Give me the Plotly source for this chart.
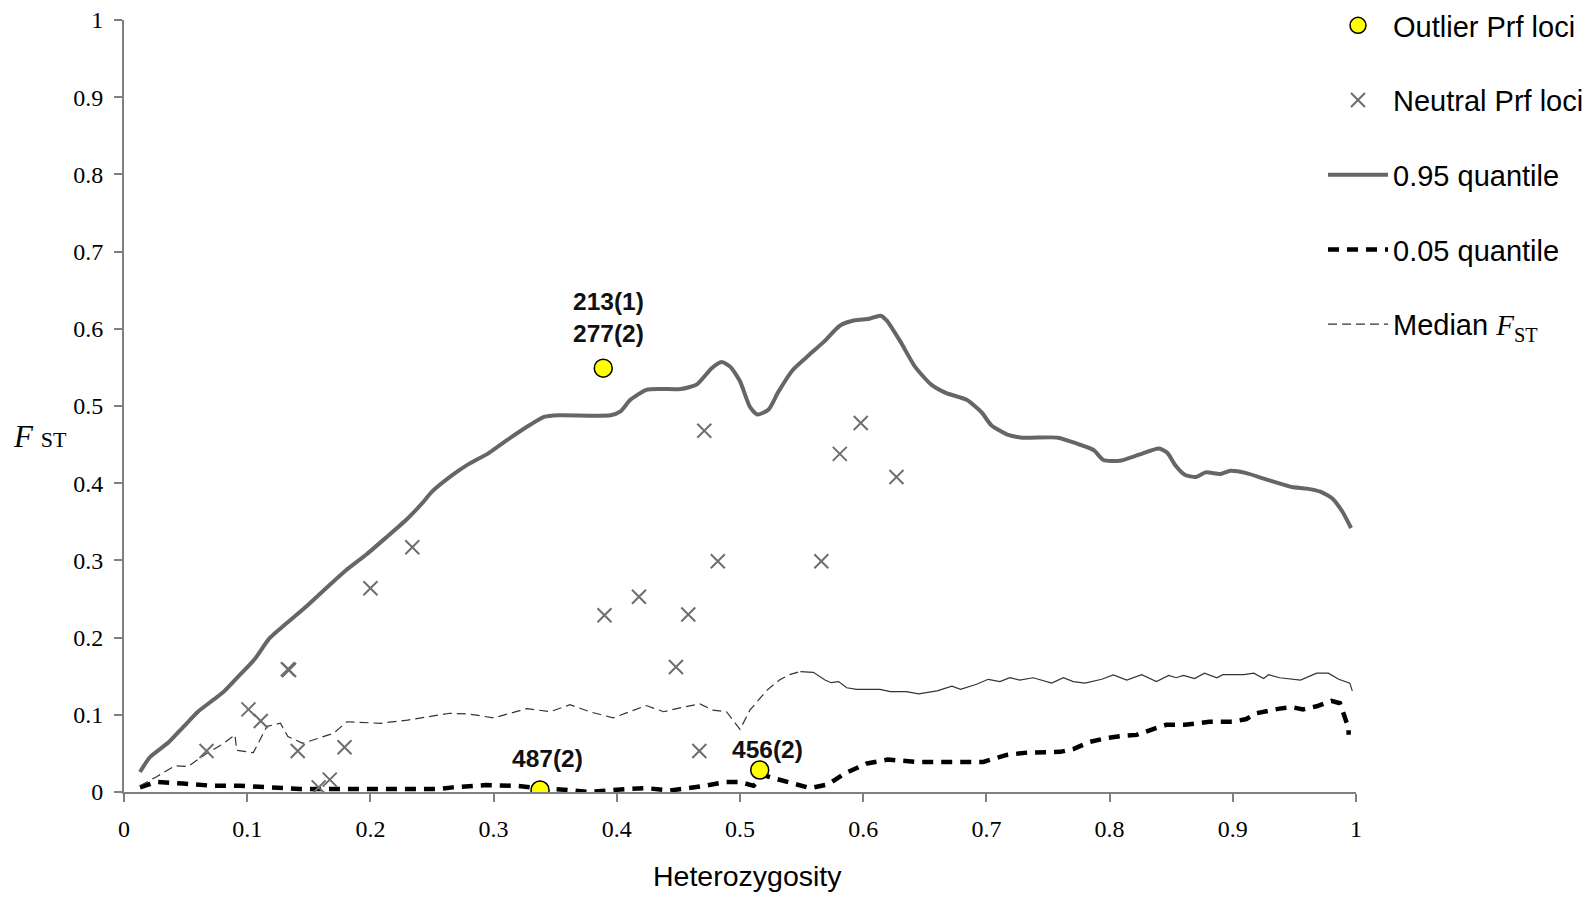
import plotly.graph_objects as go

# ---------------- data ----------------
q95_x = [0.013,0.021,0.036,0.048,0.060,0.073,0.081,0.093,0.106,0.118,
         0.130,0.147,0.164,0.180,0.197,0.213,0.230,0.242,0.250,0.267,
         0.279,0.296,0.312,0.329,0.341,0.353,0.395,0.403,0.411,0.424,
         0.436,0.452,0.465,0.477,0.485,0.492,0.500,0.508,0.514,0.523,
         0.531,0.543,0.556,0.568,0.581,0.593,0.605,0.614,0.619,0.630,
         0.642,0.655,0.667,0.684,0.696,0.704,0.717,0.729,0.758,0.774,
         0.787,0.795,0.808,0.824,0.840,0.847,0.853,0.861,0.870,0.878,
         0.890,0.898,0.911,0.923,0.935,0.948,0.960,0.971,0.981,0.989,
         0.996]
q95_y = [0.026,0.045,0.064,0.084,0.104,0.120,0.130,0.150,0.172,0.199,
         0.216,0.239,0.264,0.287,0.308,0.330,0.354,0.374,0.389,0.411,
         0.424,0.439,0.457,0.475,0.486,0.488,0.488,0.493,0.508,0.521,
         0.522,0.522,0.528,0.549,0.557,0.551,0.532,0.499,0.489,0.495,
         0.518,0.547,0.566,0.583,0.604,0.611,0.613,0.617,0.611,0.584,
         0.551,0.528,0.517,0.508,0.492,0.475,0.463,0.459,0.459,0.451,
         0.443,0.430,0.429,0.437,0.445,0.439,0.424,0.411,0.408,0.414,
         0.412,0.416,0.413,0.407,0.401,0.395,0.393,0.389,0.380,0.363,
         0.342]

q05_x = [0.013,0.0265,0.048,0.072,0.094,0.118,0.143,0.175,0.205,0.235,
         0.256,0.267,0.294,0.319,0.335,0.357,0.378,0.400,0.424,0.443,
         0.4675,0.489,0.500,0.511,0.519,0.527,0.543,0.557,0.5717,0.585,
         0.603,0.620,0.643,0.6975,0.7165,0.733,0.760,0.7705,0.784,0.798,
         0.810,0.822,0.837,0.846,0.861,0.871,0.881,0.900,0.911,0.919,
         0.9275,0.938,0.948,0.957,0.968,0.980,0.987,0.989,0.994,0.994]
q05_y = [0.006,0.013,0.011,0.008,0.008,0.006,0.004,0.004,0.004,0.004,
         0.004,0.006,0.009,0.008,0.005,0.003,0.000,0.003,0.005,0.002,
         0.007,0.013,0.013,0.008,0.022,0.018,0.011,0.005,0.010,0.024,
         0.037,0.042,0.039,0.039,0.048,0.051,0.052,0.0557,0.065,0.070,
         0.0725,0.074,0.0825,0.087,0.087,0.089,0.091,0.091,0.0945,0.102,
         0.105,0.108,0.110,0.107,0.111,0.118,0.115,0.106,0.0825,0.074]

med_x = [0.013,0.0265,0.0414,0.052,0.067,0.080,0.090,0.0915,0.105,0.116,
         0.127,0.133,0.145,0.159,0.170,0.181,0.208,0.230,0.246,0.2646,
         0.280,0.300,0.327,0.346,0.362,0.378,0.397,0.424,0.438,0.454,
         0.4675,0.478,0.489,0.500,0.508,0.522,0.532,0.540,0.549,0.5595,
         0.569,0.574,0.580,0.5866,0.5947,0.6136,0.622,0.635,0.645,0.660,
         0.672,0.679,0.692,0.7015,0.711,0.719,0.727,0.738,0.753,0.7625,
         0.7705,0.780,0.7936,0.803,0.814,0.826,0.838,0.848,0.854,0.860,
         0.869,0.877,0.887,0.892,0.909,0.917,0.925,0.929,0.938,0.955,
         0.968,0.9775,0.986,0.995,0.997]
med_y = [0.008,0.0198,0.034,0.033,0.050,0.062,0.074,0.054,0.051,0.085,
         0.089,0.072,0.063,0.070,0.076,0.091,0.089,0.093,0.097,0.102,
         0.101,0.096,0.108,0.104,0.113,0.104,0.096,0.112,0.104,0.110,
         0.114,0.106,0.104,0.081,0.106,0.132,0.145,0.152,0.156,0.155,
         0.145,0.1416,0.143,0.135,0.133,0.133,0.130,0.130,0.127,0.131,
         0.137,0.133,0.1395,0.146,0.143,0.148,0.145,0.148,0.141,0.148,
         0.143,0.141,0.146,0.1516,0.145,0.152,0.143,0.151,0.148,0.151,
         0.147,0.154,0.148,0.152,0.152,0.154,0.147,0.152,0.148,0.145,
         0.154,0.154,0.146,0.141,0.131]

neutral_x = [0.067,0.101,0.111,0.133,0.134,0.141,0.158,0.167,0.179,0.200,0.234,
             0.390,0.418,0.448,0.458,0.467,0.471,0.482,0.566,0.581,0.598,0.627]
neutral_y = [0.053,0.107,0.092,0.159,0.158,0.053,0.006,0.016,0.058,0.264,0.317,
             0.229,0.253,0.162,0.230,0.053,0.468,0.299,0.299,0.438,0.478,0.408]

outlier_x = [0.389, 0.3377, 0.516]
outlier_y = [0.549, 0.0026, 0.0285]
outlier_labels = ["213(1)<br>277(2)", "487(2)", "456(2)"]

x_ticks = [0, 0.1, 0.2, 0.3, 0.4, 0.5, 0.6, 0.7, 0.8, 0.9, 1]
y_ticks = [0, 0.1, 0.2, 0.3, 0.4, 0.5, 0.6, 0.7, 0.8, 0.9, 1]

# ---------------- figure ----------------
SANS = "Liberation Sans, Arial, sans-serif"
SERIF = "Liberation Serif, Times New Roman, serif"
split = med_x.index(0.549)

fig = go.Figure()

fig.add_trace(go.Scatter(
    x=q95_x, y=q95_y, mode="lines", name="0.95 quantile",
    line=dict(color="#666666", width=4, shape="spline", smoothing=0.6),
    legendgroup="q95", legendrank=3))

fig.add_trace(go.Scatter(
    x=q05_x, y=q05_y, mode="lines", name="0.05 quantile",
    line=dict(color="#000000", width=4.5, dash="11px,8px"),
    legendgroup="q05", legendrank=4))

fig.add_trace(go.Scatter(
    x=med_x[:split + 1], y=med_y[:split + 1], mode="lines",
    name="Median <span style='font-family:Liberation Serif'><i>F</i><sub>ST</sub></span>",
    line=dict(color="#333333", width=1.2, dash="9px,5px"),
    legendgroup="med", legendrank=5))

fig.add_trace(go.Scatter(
    x=med_x[split:], y=med_y[split:], mode="lines", showlegend=False,
    line=dict(color="#333333", width=1.2),
    legendgroup="med"))

fig.add_trace(go.Scatter(
    x=neutral_x, y=neutral_y, mode="markers", name="Neutral Prf loci",
    marker=dict(symbol="x-thin-open", size=14, color="#6e6e6e",
                line=dict(width=2, color="#6e6e6e")),
    legendgroup="neu", legendrank=2))

fig.add_trace(go.Scatter(
    x=outlier_x, y=outlier_y, mode="markers", name="Outlier Prf loci",
    marker=dict(symbol="circle", size=18, color="#ffff00",
                line=dict(width=1.5, color="#000000")),
    legendgroup="out", legendrank=1))

shifts = [(5, 51), (7, 31), (8, 21)]
for xv, yv, lab, (dx, dy) in zip(outlier_x, outlier_y, outlier_labels, shifts):
    fig.add_annotation(x=xv, y=yv, xref="x", yref="y", text="<b>%s</b>" % lab,
                       showarrow=False, xanchor="center", yanchor="middle",
                       xshift=dx, yshift=dy,
                       font=dict(family=SANS, size=24.5, color="#111111"))

# axis titles as annotations
fig.add_annotation(x=(748 - 124) / 1232, y=(792 - 876) / 772, xref="paper", yref="paper",
                   text="Heterozygosity", showarrow=False, xanchor="center", yanchor="middle",
                   font=dict(family=SANS, size=28.5, color="#000000"))
fig.add_annotation(x=(40 - 124) / 1232, y=(792 - 436) / 772, xref="paper", yref="paper",
                   text="<i>F</i> <span style='font-size:22px'>ST</span>", showarrow=False,
                   xanchor="center", yanchor="middle",
                   font=dict(family=SERIF, size=31, color="#000000"))

axis_common = dict(
    showgrid=False, zeroline=False, showline=True, linecolor="#808080", linewidth=2,
    ticks="outside", ticklen=8, tickwidth=2, tickcolor="#808080",
    tickfont=dict(family=SERIF, size=24, color="#000000"),
    range=[0, 1],
)

fig.update_xaxes(**axis_common, tickvals=x_ticks, ticktext=[("%g" % v) for v in x_ticks],
                 ticklabelstandoff=6)
fig.update_yaxes(**axis_common, tickvals=y_ticks, ticktext=[("%g" % v) for v in y_ticks],
                 ticklabelstandoff=6)

fig.update_layout(
    width=1594, height=897,
    margin=dict(l=124, r=238, t=20, b=105, autoexpand=False),
    plot_bgcolor="white", paper_bgcolor="white",
    showlegend=True,
    legend=dict(
        x=(1323 - 124) / 1232, xanchor="left",
        y=(792 - 0) / 772, yanchor="top",
        font=dict(family=SANS, size=29, color="#000000"),
        bgcolor="rgba(0,0,0,0)", borderwidth=0,
        tracegroupgap=34, itemwidth=60,
    ),
)

fig.write_html("out.html")
